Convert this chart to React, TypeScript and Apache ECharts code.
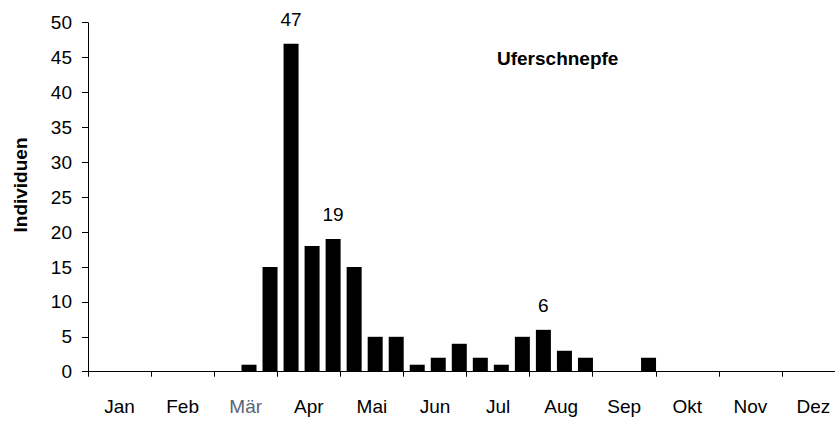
import React, { useEffect, useRef } from "react";
import * as echarts from "echarts";

const months = ["Jan", "Feb", "Mär", "Apr", "Mai", "Jun", "Jul", "Aug", "Sep", "Okt", "Nov", "Dez"];
const decades = months.flatMap((m) => [m + " I", m + " II", m + " III"]);
const counts = [
  0, 0, 0, // Jan
  0, 0, 0, // Feb
  0, 1, 15, // Mär
  47, 18, 19, // Apr
  15, 5, 5, // Mai
  1, 2, 4, // Jun
  2, 1, 5, // Jul
  6, 3, 2, // Aug
  0, 0, 2, // Sep
  0, 0, 0, // Okt
  0, 0, 0, // Nov
  0, 0, 0, // Dez
];
const labelledSlots = [9, 11, 21];
const yTicks = { min: 0, max: 50, interval: 5 };
const yTitle = "Individuen";
const speciesTitle = "Uferschnepfe";

const FONT = "Arial, 'Liberation Sans', Helvetica, sans-serif";

export default function App() {
  const ref = useRef<HTMLDivElement>(null);
  useEffect(() => {
    document.body.style.margin = "0";
    if (!ref.current) return;
    const chart = echarts.init(ref.current, null, { renderer: "svg" });
    const gridTop = 22.7;
    const gridHeight = 349;
    const gridWidth = 757;
    chart.setOption({
      animation: false,
      backgroundColor: "#ffffff",
      textStyle: { fontFamily: FONT },
      grid: [
        { left: 88, top: gridTop, width: gridWidth, height: gridHeight },
        { left: 91.3, top: gridTop, width: gridWidth, height: gridHeight },
      ],
      xAxis: [
        {
          type: "category",
          gridIndex: 0,
          data: months,
          boundaryGap: true,
          axisLine: { lineStyle: { color: "#000", width: 1 } },
          axisTick: { show: true, length: 5, lineStyle: { color: "#000" } },
          axisLabel: {
            interval: 0,
            margin: 25,
            color: "#000",
            fontSize: 19,
            fontFamily: FONT,
            formatter: (v: string) => (v === "Mär" ? "{m|Mär}" : v),
            rich: { m: { color: "#5a6478", fontSize: 19, fontFamily: FONT } },
          },
          splitLine: { show: false },
        },
        {
          type: "category",
          gridIndex: 1,
          data: decades,
          show: false,
        },
      ],
      yAxis: [
        {
          type: "value",
          gridIndex: 0,
          min: yTicks.min,
          max: yTicks.max,
          interval: yTicks.interval,
          axisLine: { show: true, lineStyle: { color: "#000", width: 1 } },
          axisTick: { show: true, length: 6, lineStyle: { color: "#000" } },
          axisLabel: { color: "#000", fontSize: 19, margin: 16, fontFamily: FONT },
          splitLine: { show: false },
        },
        {
          type: "value",
          gridIndex: 1,
          min: yTicks.min,
          max: yTicks.max,
          interval: yTicks.interval,
          show: false,
          splitLine: { show: false },
        },
      ],
      series: [
        {
          type: "bar",
          xAxisIndex: 1,
          yAxisIndex: 1,
          barWidth: 15,
          itemStyle: { color: "#000" },
          data: counts.map((v, i) => ({
            value: v,
            label: {
              show: labelledSlots.includes(i),
              position: "top",
              distance: 15,
              color: "#000",
              fontSize: 19,
              fontFamily: FONT,
            },
          })),
        },
      ],
      graphic: [
        {
          type: "text",
          x: 20,
          y: 185,
          rotation: Math.PI / 2,
          style: {
            text: yTitle,
            fontSize: 19,
            fontWeight: "bold",
            fontFamily: FONT,
            fill: "#000",
            align: "center",
            verticalAlign: "middle",
          },
        },
        {
          type: "text",
          x: 497,
          y: 58,
          style: {
            text: speciesTitle,
            fontSize: 19,
            fontWeight: "bold",
            fontFamily: FONT,
            fill: "#000",
            align: "left",
            verticalAlign: "middle",
          },
        },
      ],
    });
    return () => chart.dispose();
  }, []);
  return (
    <div style={{ width: 835, height: 421, overflow: "hidden", position: "relative" }}>
      <div ref={ref} style={{ width: 860, height: 421 }} />
    </div>
  );
}
